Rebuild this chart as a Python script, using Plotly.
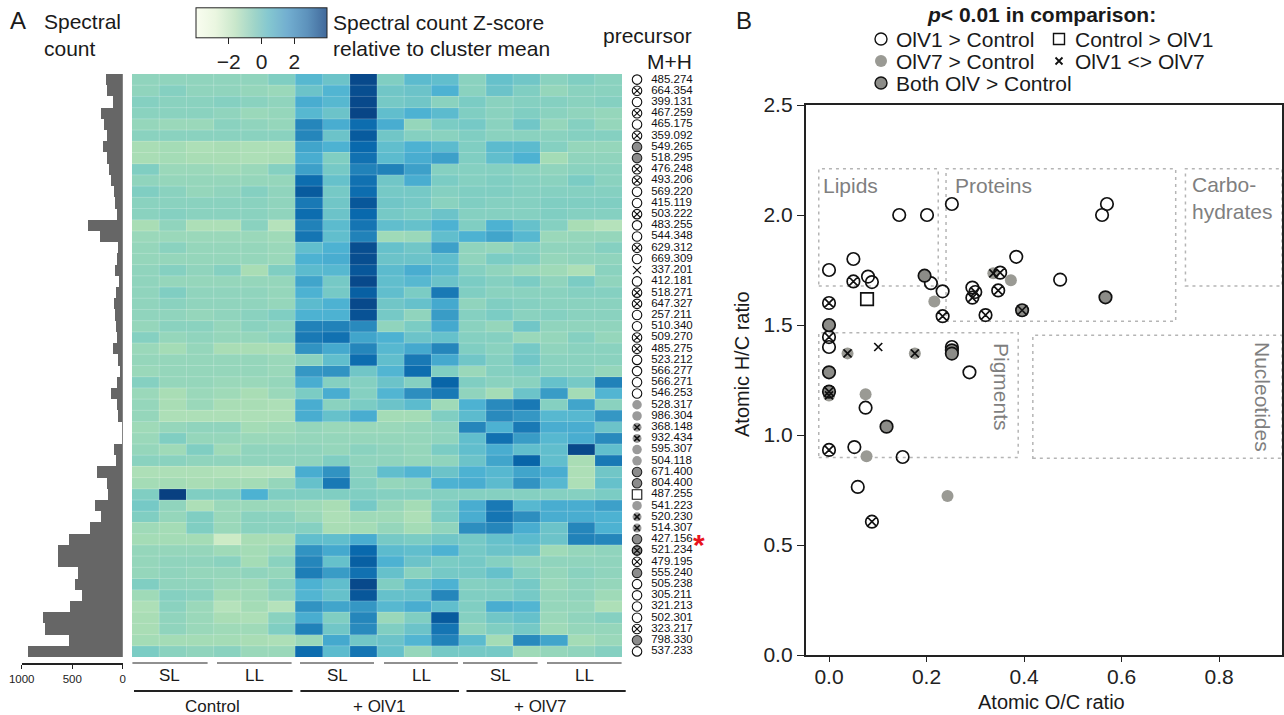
import plotly.graph_objects as go

FONT = "Liberation Sans"
W, H = 1284, 715

precursors = ["485.274","664.354","399.131","467.259","465.175","359.092","549.265","518.295","476.248","493.206",
 "569.220","415.119","503.222","483.255","544.348","629.312","669.309","337.201","412.181","518.271","647.327",
 "257.211","510.340","509.270","485.275","523.212","566.277","566.271","546.253","528.317","986.304","368.148",
 "932.434","595.307","504.118","671.400","804.400","487.255","541.223","520.230","514.307","427.156","521.234",
 "479.195","555.240","505.238","305.211","321.213","502.301","323.217","798.330","537.233"]
precursor_class = ["O","X","O","X","O","X","B","B","X","X","O","O","X","O","O","X","O","x","O","X","X","O","O","X","X",
 "O","O","O","O","S","S","G","G","S","S","B","B","Q","S","G","G","B","BX","X","B","O","O","O","O","X","B","O"]
spectral_count = [165,155,100,220,190,155,200,155,135,115,90,80,65,345,230,55,65,80,45,70,90,80,70,65,100,55,30,65,120,
 65,55,10,15,90,70,255,155,145,275,220,325,540,645,645,450,475,410,530,795,775,540,940]
zscores = [
[-.4,-.4,-.4,-.4,-.4,-.1,.7,.3,3.3,-.1,.6,.5,-.3,.4,.2,-.3,-.1,-.3],
[-.4,-.2,-.4,-.4,-.5,-.6,.3,.8,3.2,.2,.3,.9,-.3,.3,-.1,-.5,-.3,-.3],
[-.2,-.3,-.3,-.2,-.3,-.4,1.0,.7,3.3,.1,.2,-.3,0,-.3,-.2,-.2,-.3,-.2],
[-.3,-.3,-.3,-.4,-.6,-.5,.7,.3,3.4,.5,.9,.6,-.1,-.3,-.1,-.3,-.4,-.5],
[-.5,-.6,-.6,-.3,-.4,-.5,1.9,1.0,2.5,1.0,-.5,0,.1,-.3,.2,-.5,-.2,-.5],
[-.3,-.3,-.3,-.3,-.3,-.3,1.9,.3,2.9,.2,-.2,-.3,-.1,-.3,-.3,-.3,-.2,-.2],
[-.9,-.8,-1,-.9,-1,-1,1.2,.9,2.6,.5,.9,.6,-.1,.6,.6,-.2,-.5,-.5],
[-.9,-.8,-.9,-.9,-1,-.9,1.0,-.1,2.4,.6,1.0,1.3,-.1,.5,.9,-.8,-.4,-.4],
[-.1,-.6,-.6,-.7,-.6,-.2,1.3,.1,2.0,2.0,1.3,-.2,-.2,-.2,-.3,-.4,-.3,-.3],
[-.4,-.5,-.5,-.5,-.5,-.5,2.5,.4,2.4,.2,1.0,0,-.2,-.1,-.2,-.3,0,-.3],
[-.1,-.3,-.5,-.4,-.2,-.4,2.9,.1,2.5,.1,.1,-.2,-.1,-.1,-.2,-.2,-.2,-.2],
[-.3,-.3,-.3,-.3,-.3,-.4,2.2,.2,3.0,.2,.1,-.3,-.1,-.2,-.2,-.1,-.1,-.1],
[-.3,-.2,-.3,-.3,-.3,-.4,2.5,.3,2.6,.1,0,.3,-.2,-.2,-.2,-.1,-.2,-.2],
[-.9,-.4,-1,-1,-.3,-1.2,2.0,.6,2.3,.5,.4,.9,-.1,.9,.4,-.2,-.9,-1.2],
[-.6,-.6,-.6,-.6,-.6,-.7,2.3,.5,2.0,-.7,-.6,.5,.9,1.2,.7,-.6,-.5,-.5],
[-.5,-.3,-.5,-.5,-.5,-.6,.5,.9,3.2,.4,.2,1.3,-.4,-.5,-.2,-.4,-.4,-.2],
[-.5,-.5,-.5,-.5,-.5,-.6,.9,1.0,3.2,.3,.3,.5,-.4,0,-.1,-.5,-.4,-.4],
[-.4,-.2,-.4,-.2,-.9,-.1,.6,.7,3.0,.6,1.0,.6,-.2,-.4,-.6,-.7,-1,-.3],
[-.4,-.5,-.5,-.5,-.5,-.5,1.2,.1,3.3,.5,.7,.3,0,-.2,0,-.4,0,-.4],
[-.4,-.1,-.4,-.4,-.4,-.5,.9,.1,2.8,.5,0,2.2,-.1,-.3,-.3,-.3,-.2,-.2],
[-.4,-.3,-.4,-.4,-.4,-.5,.6,.9,3.3,.2,.4,1.1,-.4,-.1,-.2,-.3,-.3,-.3],
[-.4,-.4,-.5,-.4,-.3,-.1,.9,.9,3.1,.1,-.4,1.4,-.2,0,-.3,-.2,-.3,-.3],
[-.5,-.3,-.3,-.5,-.3,-.4,2.0,2.0,1.8,-.4,0,1.1,-.3,-.5,.2,-.4,-.4,-.4],
[-.2,-.5,-.4,-.5,-.5,-.3,2.2,2.4,1.2,.9,.3,.4,-.2,-.2,-.6,-.5,-.2,-.5],
[-.6,-.8,-.5,-.9,-.9,-.9,1.6,1.1,1.9,.7,1.1,1.9,-.1,-.3,.1,-.4,-.3,-.3],
[-.5,-.5,-.5,-.5,-.5,-.6,-.3,.5,2.5,.5,2.2,1.1,.2,-.2,.2,-.3,-.3,-.3],
[-.6,-.5,-.5,-.5,-.5,-.6,1.5,1.6,.2,.8,2.5,-.1,-.6,-.2,-.1,-.3,-.3,-.5],
[-.2,-.5,-.5,-.6,-.6,-.5,1.0,-.2,-.2,.3,-.2,2.7,-.1,-.3,-.3,.4,.1,2.0],
[-.6,-.9,-.6,-.7,-.9,-.6,0,1.0,-.2,.8,1.7,2.2,-.4,-.8,.3,1.4,-.8,.8],
[-.5,-.9,-.6,-.9,-.9,-1,1.0,-.3,0,.3,.6,-.7,.9,1.8,2.2,-.2,1.2,-.3],
[-.5,-1,-1,-1,-1,-1,1,.4,1,-.8,-.8,-.1,.6,1.8,1.5,.7,.7,1.5],
[-.7,-.5,-.4,-.4,-.8,-.7,-.5,-.6,-.6,-.6,-.5,-.4,1.9,.9,2.2,1.0,1.0,.3],
[-.6,-.1,-.5,-.5,-.6,-.6,-.5,-.5,-.5,-.5,-.5,-.4,.5,2.4,1.4,.7,1.0,1.8],
[-.5,-.7,-.1,-.7,-.4,-.4,-.4,-.5,-.3,-.4,-.5,0,.5,1,.5,.5,3.3,.5],
[-.3,-.3,-.4,-.4,-.4,-.4,-.4,-.1,-.4,-.4,-.5,-.4,.3,1.2,2.7,.5,-.9,2.2],
[-1,-1,-1,-1.1,-1.2,-1.2,1,1.6,-.3,.5,.8,.3,.9,.7,1.2,1,-1,.2],
[-.8,-.8,-.9,-.8,-.8,-.5,.4,2.2,-.2,-.5,-.4,.9,1,.6,1.6,.7,-1,.4],
[-.1,3.7,-.1,-.1,.9,-.1,-.1,-.1,-.1,-.2,-.2,-.2,-.2,-.2,-.2,-.2,-.2,0],
[.1,-.4,-1,-.6,-.6,-.6,-.7,-.9,.1,-.5,-.8,0,1,2.2,.7,1,1.0,1.3],
[-.1,-.5,-.1,-.6,-.3,-.3,-.6,-1,-.7,-.7,-1,0,1,2.3,1.7,1,1,.9],
[-.7,-.8,-.1,-.6,-.3,-.3,-.2,-.9,-.8,-.5,-.8,-.4,1.7,1.9,1,.3,1.9,.9],
[-.8,-.8,-.8,-1.8,-.9,-.9,.5,.5,1,.1,0,.2,.1,.4,.6,.3,2,1.9],
[-.5,-.5,-.5,-.7,-.8,-.6,1.6,1.1,2.6,.6,.5,.9,.1,.3,.3,-.7,-.5,-.4],
[-.5,-.4,-.4,-.3,-.8,-.3,1.9,.4,2.8,.9,.3,0,.1,-.2,-.4,-.4,-.4,-.4],
[-.5,-.4,-.5,-.5,-.4,-.5,2.1,1.4,2.4,.4,-.3,.1,.1,.4,-.2,-.5,-.3,-.4],
[-.1,-.4,-.4,-.6,-.7,-.3,.9,.5,3.3,-.1,.5,.9,-.2,-.1,.1,-.6,-.4,-.5],
[-.7,-.2,-.3,-.8,-.7,-.4,.8,.4,3,.4,.4,1.9,-.1,-.1,.1,-.5,-.4,-.7],
[-1,-.3,-.6,-1.2,-.8,-1.2,1.6,1.2,1.5,.7,1,.5,-.1,1,.8,-.5,-.5,-1],
[-.9,-.4,-.6,-.9,-1,-.3,1,-.1,1.9,-.6,-.1,2.9,-.2,.2,.4,-.6,-.4,-.2],
[-.9,-.4,-.6,-.7,-.7,-.1,2,.2,1.8,-.1,.3,2.3,-.4,-.1,.1,-.7,-.5,-.5],
[-.8,-.8,-.8,-.8,-.9,-1,-.6,1.1,.2,.3,.8,2,.6,-.8,1.8,1.2,-.8,-.6],
[0,-.3,-.4,-.3,-.6,-.6,2.5,.6,2.3,.4,-.5,.1,.1,.1,-.7,-.5,-.4,-.2],
]
sample_columns = list(range(18))
rows = list(range(len(precursors)))

open_oc = [.144,.201,.252,.56,.57,.05,0,.08,.088,.209,.233,.384,.474,.294,0,.252,.288,.075,.052,.151,.059]
open_hc = [2.0,2.0,2.05,2.0,2.05,1.80,1.75,1.72,1.695,1.69,1.653,1.81,1.706,1.67,1.40,1.40,1.285,1.124,.945,.90,.764]
xcircle_oc = [.05,0,.233,.321,.347,.351,0,.088,.294,.30,0]
xcircle_hc = [1.698,1.60,1.54,1.545,1.657,1.738,.932,.606,1.624,1.65,1.445]
both_oc = [.196,.567,0,.252,.252,0,0,.118,.396]
both_hc = [1.724,1.626,1.50,1.385,1.37,1.285,1.197,1.038,1.567]
both_x_oc = [0,.396]
both_x_hc = [1.197,1.567]
oiv7_oc = [.216,.373,.075,.077,.243]
oiv7_hc = [1.607,1.703,1.185,.903,.723]
oiv7x_oc = [.337,.038,.176,0]
oiv7x_hc = [1.735,1.371,1.371,1.18]
only_x_oc = [.101]
only_x_hc = [1.40]
square_oc = [.078]
square_hc = [1.618]

regions = [("Lipids",-.021,.224,1.677,2.21),("Proteins",.24,.711,1.517,2.21),("Carbo",.731,.929,1.677,2.21),
           ("Pigments",-.021,.388,.898,1.465),("Nucleotides",.418,.929,.894,1.453)]

GnBu = ["#f7fcf0","#e0f3db","#ccebc5","#a8ddb5","#7bccc4","#4eb3d3","#2b8cbe","#0868ac","#084081"]
zmin, zmax = -4, 4
scale = [[0,"#f7fcf0"]]
for i,c in enumerate(GnBu):
    scale.append([(-3.5+i*7/8-zmin)/(zmax-zmin),c])
scale.append([1,"#084081"])
bar_scale = [[0,"#f9fdf0"],[.15,"#eaf6e0"],[.3,"#c9e7cb"],[.45,"#9ed4c8"],[.55,"#85c8d0"],[.7,"#72aed0"],[.85,"#5d92bc"],[1,"#41699b"]]

def px(v): return v/W
def py(v): return 1-v/H

HEAT_DOM = [py(657),py(74)]
fig = go.Figure()
ycat = dict(range=[51.5,-0.5],domain=HEAT_DOM,visible=False)

fig.add_trace(go.Heatmap(z=zscores,x=sample_columns,y=rows,colorscale=scale,zmin=zmin,zmax=zmax,showscale=False,
                         xaxis="x",yaxis="y"))
fig.add_trace(go.Scatter(x=[None],y=[None],mode="markers",xaxis="x",yaxis="y",
    marker=dict(color=[0],colorscale=bar_scale,cmin=zmin,cmax=zmax,showscale=True,
    colorbar=dict(orientation="h",x=px(196),xanchor="left",y=py(74),yanchor="bottom",lenmode="pixels",len=131,
                  thicknessmode="pixels",thickness=30,tickvals=[-2,0,2],ticktext=["−2","0","2"],ticks="outside",ticklen=6,
                  tickcolor="#222",tickfont=dict(size=21,color="#222",family=FONT),outlinecolor="#222",outlinewidth=1,xpad=0,ypad=0))))
fig.add_trace(go.Bar(x=spectral_count,y=rows,orientation="h",marker=dict(color="#666666",line=dict(width=0)),xaxis="x2",yaxis="y2",width=1))

STYLE = {"O":dict(symbol="circle",color="white",line=dict(color="#111",width=1.1)),
         "X":dict(symbol="circle-x-open",color="#111",line=dict(color="#111",width=1.1)),
         "B":dict(symbol="circle",color="#8c8c8c",line=dict(color="#222",width=1.1)),
         "BX":dict(symbol="circle-x",color="#8c8c8c",line=dict(color="#111",width=1.3)),
         "S":dict(symbol="circle",color="#9a9a9a",line=dict(width=0)),
         "G":dict(symbol="x-thin",color="#111",line=dict(color="#111",width=1.5)),
         "x":dict(symbol="x-thin",color="#111",line=dict(color="#111",width=1.2)),
         "Q":dict(symbol="square",color="white",line=dict(color="#111",width=1.1))}
SIZES = {"G":5.5,"x":8,"S":9.5}
for k,st in STYLE.items():
    ys = [r for r,c in zip(rows,precursor_class) if c==k]
    if k=="G":
        fig.add_trace(go.Scatter(x=[.149]*len(ys),y=ys,mode="markers",marker=dict(symbol="circle",size=9,color="#9a9a9a"),xaxis="x3",yaxis="y3"))
    fig.add_trace(go.Scatter(x=[.149]*len(ys),y=ys,mode="markers",marker=dict(size=SIZES.get(k,9.5),**st),xaxis="x3",yaxis="y3"))
fig.add_trace(go.Scatter(x=[.34]*len(precursors),y=rows,mode="text",text=precursors,textposition="middle right",
                         textfont=dict(size=11.5,color="#111",family=FONT),xaxis="x3",yaxis="y3"))

def pts(xs,ys,**m):
    fig.add_trace(go.Scatter(x=xs,y=ys,mode="markers",marker=m,xaxis="x4",yaxis="y4"))
OL = dict(color="#111",width=1.7)
pts(oiv7_oc,oiv7_hc,symbol="circle",size=12,color="#9a9a94",line=dict(width=0))
pts(oiv7x_oc,oiv7x_hc,symbol="circle",size=12,color="#9a9a94",line=dict(width=0))
pts(open_oc,open_hc,symbol="circle-open",size=12.5,color="#111",line=OL)
pts(xcircle_oc,xcircle_hc,symbol="circle-x-open",size=12.5,color="#111",line=OL)
pts(both_oc,both_hc,symbol="circle",size=12.5,color="#8c8c88",line=OL)
pts(both_x_oc,both_x_hc,symbol="x-thin",size=10,color="#111",line=OL)
pts(oiv7x_oc,oiv7x_hc,symbol="x-thin",size=8,color="#111",line=OL)
pts(only_x_oc,only_x_hc,symbol="x-thin",size=8,color="#111",line=OL)
pts(square_oc,square_hc,symbol="square-open",size=12.5,color="#111",line=OL)

LEG = [(881,39,dict(symbol="circle-open",size=12,color="#111",line=dict(color="#111",width=1.4))),
       (881,61,dict(symbol="circle",size=12,color="#9a9a94",line=dict(width=0))),
       (881,83,dict(symbol="circle",size=12,color="#8c8c88",line=dict(color="#111",width=1.4))),
       (1059,39,dict(symbol="square-open",size=11,color="#111",line=dict(color="#111",width=1.4))),
       (1059,61,dict(symbol="x-thin",size=7,color="#111",line=dict(color="#111",width=1.8)))]
for x,y,m in LEG:
    fig.add_trace(go.Scatter(x=[x],y=[y],mode="markers",marker=m,xaxis="x5",yaxis="y5"))

shapes=[]
for name,x0,x1,y0,y1 in regions:
    shapes.append(dict(type="rect",xref="x4",yref="y4",x0=x0,x1=x1,y0=y0,y1=y1,
                       line=dict(color="#b5b5b5",width=1.5,dash="3px,4px"),layer="below"))
GRID = dict(color="rgba(255,255,255,0.22)",width=1)
for c in sample_columns[:-1]:
    shapes.append(dict(type="line",xref="x",yref="y",x0=c+.5,x1=c+.5,y0=-.5,y1=51.5,line=GRID))
for r in rows[:-1]:
    shapes.append(dict(type="line",xref="x",yref="y",x0=-.5,x1=17.5,y0=r+.5,y1=r+.5,line=GRID))
def line(x0,x1,y,w,color="#222"):
    shapes.append(dict(type="line",xref="paper",yref="paper",x0=px(x0),x1=px(x1),y0=py(y),y1=py(y),line=dict(color=color,width=w)))
for a,b in [(132.4,207.6),(217,291.6),(300,374),(384,458),(463,537.6),(547,621.6)]:
    line(a,b,663,1.2)
for a,b in [(134,292.6),(300.4,459),(466.5,625.7)]:
    line(a,b,691,2)

ann=[]
def text(x,y,s,size=21,color="#1a1a1a",anchor="left",angle=0):
    if anchor=="left": x-=2
    if anchor=="right": x+=2
    ann.append(dict(xref="paper",yref="paper",x=px(x),y=py(y),text=s,showarrow=False,xanchor=anchor,yanchor="middle",
                    textangle=angle,font=dict(size=size,color=color,family=FONT)))
text(10,20,"A",24); text(44,21,"Spectral"); text(44,49,"count")
text(333,22,"Spectral count Z-score"); text(333,49,"relative to cluster mean")
text(692,36,"precursor",anchor="right"); text(692,61,"M+H",anchor="right")
for x,s in [(170,"SL"),(254,"LL"),(337,"SL"),(421,"LL"),(500,"SL"),(584,"LL")]:
    text(x,675,s,17,anchor="center")
text(212,706,"Control",17,anchor="center"); text(379,706,"+ OlV1",17,anchor="center"); text(540,706,"+ OlV7",17,anchor="center")
text(699,544,"<b>*</b>",30,"#e8141c",anchor="center")
text(736,20,"B",24)
text(1041,15,"<b><i>p</i>&lt; 0.01 in comparison:</b>",21,anchor="center")
text(896,39,"OlV1 &gt; Control"); text(896,61,"OlV7 &gt; Control"); text(896,83,"Both OlV &gt; Control")
text(1075,39,"Control &gt; OlV1"); text(1075,61,"OlV1 &lt;&gt; OlV7")
G="#7f7f7f"
text(823,185,"Lipids",21,G); text(955,185,"Proteins",21,G); text(1192,184,"Carbo-",21,G); text(1192,211,"hydrates",21,G)
text(1002,387,"Pigments",21,G,anchor="center",angle=90); text(1263,397,"Nucleotides",21,G,anchor="center",angle=90)
text(742,364,"Atomic H/C ratio",20,anchor="center",angle=-90)
text(1051,702,"Atomic O/C ratio",20,anchor="center")

hidden=dict(visible=False)
fig.update_layout(
    width=W,height=H,margin=dict(l=0,r=0,t=0,b=0,autoexpand=False),paper_bgcolor="white",plot_bgcolor="rgba(0,0,0,0)",showlegend=False,
    shapes=shapes,annotations=ann,bargap=0,
    xaxis=dict(domain=[px(132),px(622)],range=[-.5,17.5],anchor="y",**hidden),
    yaxis=dict(anchor="x",**ycat),
    xaxis2=dict(domain=[px(21.7),px(122.8)],range=[1000,0],anchor="y2",side="bottom",
                tickvals=[1000,500,0],ticks="outside",ticklen=4,tickcolor="#222",showline=True,linecolor="#222",linewidth=1.6,showgrid=False,zeroline=False,
                tickfont=dict(size=11.5,color="#222",family=FONT)),
    yaxis2=dict(anchor="x2",range=[52.035,-0.5],domain=[py(663),py(74)],visible=False),
    xaxis3=dict(domain=[px(626),px(700)],range=[0,1],anchor="y3",**hidden),
    yaxis3=dict(anchor="x3",**ycat),
    xaxis4=dict(domain=[px(805.6),px(1282)],range=[-.048,.929],anchor="y4",tickvals=[0,.2,.4,.6,.8],tickformat=".1f",ticks="outside",ticklen=5,ticklabelstandoff=-3,
                tickcolor="#222",showline=True,linecolor="#222",linewidth=1.6,mirror=True,showgrid=False,zeroline=False,tickfont=dict(size=21,color="#222",family=FONT)),
    yaxis4=dict(domain=[py(655),py(105)],range=[0,2.5],anchor="x4",tickvals=[0,.5,1,1.5,2,2.5],tickformat=".1f",ticks="outside",ticklen=7,
                tickcolor="#222",showline=True,linecolor="#222",linewidth=1.6,mirror=True,showgrid=False,zeroline=False,tickfont=dict(size=21,color="#222",family=FONT)),
    xaxis5=dict(domain=[0,1],range=[0,W],anchor="y5",**hidden),
    yaxis5=dict(domain=[0,1],range=[H,0],anchor="x5",**hidden),
)
fig.write_html("out.html",config=dict(displayModeBar=False),post_script="document.body.style.margin='0';document.body.style.overflow='hidden';")
